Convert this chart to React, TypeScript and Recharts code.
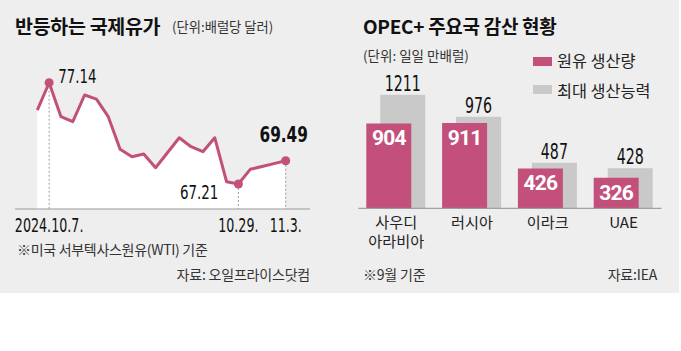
import React from 'react'
import {
  ComposedChart, Area, Line, XAxis, YAxis, ReferenceLine, BarChart, Bar, LabelList,
} from 'recharts'

const KR = "'Noto Sans CJK KR', 'Noto Sans', sans-serif"
const NUM = "'Liberation Sans Narrow', 'DejaVu Sans Condensed', Roboto, sans-serif"
const PINK = '#c2507a'
const GREY_BAR = '#c9c9c9'
const BG = '#eeeeee'

// WTI, trading days from 2024.10.4 to 11.3
const priceDays = [0, 1, 2, 3, 4, 5, 6, 7, 8, 9, 10, 11, 12, 13, 14, 15, 16, 17, 18, 19, 20, 21]
const prices = [
  74.46, 77.14, 73.81, 73.32, 75.94, 75.54, 73.81, 70.61, 69.89, 70.15, 68.81,
  70.28, 71.75, 70.87, 70.38, 71.75, 67.44, 67.21, 68.65, 68.93, 69.21, 69.49,
]
const markedDays = [1, 17, 21]
const dayLabels = ['2024.10.7.', '10.29.', '11.3.']
const Y_MIN = 64.76
const Y_MAX = 78.39

// OPEC+, 만배럴/일 (9월 기준)
const countries = ['사우디 아라비아', '러시아', '이라크', 'UAE']
const production = [904, 911, 426, 326]
const capacity = [1211, 976, 487, 428]

const priceData = priceDays.map((d, i) => ({ day: d, price: prices[i] }))
const barData = countries.map((c, i) => ({ name: c, production: production[i], capacity: capacity[i] }))

// the paper's number font is a narrow gothic: squeeze the fallback to that width
const narrowWidth = (s: string, size: number, bold = false) =>
  [...s].reduce((w, ch) => w + (ch === '.' ? 0.2 : bold ? 0.5 : 0.43) * size, 0)

function NarrowText({ x, y, text, size, bold = false, anchor = 'middle', fill = '#111' }: any) {
  return (
    <text
      x={x}
      y={y}
      textAnchor={anchor}
      fontFamily={NUM}
      fontSize={size}
      fontWeight={bold ? 700 : 400}
      fill={fill}
      textLength={narrowWidth(text, size, bold)}
      lengthAdjust="spacingAndGlyphs"
    >
      {text}
    </text>
  )
}

const annot = [
  { dx: 9, dy: 0.5, anchor: 'start', size: 20, bold: false },
  { dx: -20, dy: 14.5, anchor: 'end', size: 20, bold: false },
  { dx: -2, dy: -19, anchor: 'middle', size: 22, bold: true },
]

function PriceDot(props: any) {
  const { cx, cy, index, payload } = props
  const k = markedDays.indexOf(index)
  if (k < 0 || cx == null) return <g key={index} />
  const a = annot[k]
  return (
    <g key={index}>
      <circle cx={cx} cy={cy} r={4.5} fill={PINK} />
      <NarrowText x={cx + a.dx} y={cy + a.dy} text={payload.price.toFixed(2)} size={a.size} bold={a.bold} anchor={a.anchor} />
    </g>
  )
}

function DayTick({ x, y, payload }: any) {
  const k = markedDays.indexOf(payload.value)
  return <NarrowText x={x} y={y + 14.5} text={dayLabels[k]} size={19} fill="#111" />
}

function CountryTick({ x, y, payload }: any) {
  const lines = String(payload.value).split(' ')
  return (
    <text x={x} y={y} textAnchor="middle" fontFamily={KR} fontSize={15.2} fill="#222">
      {lines.map((l, i) => (
        <tspan key={i} x={x} dy={i === 0 ? 11.8 : 18.8}>{l}</tspan>
      ))}
    </text>
  )
}

function CapacityLabel({ x, y, width, value }: any) {
  return <NarrowText x={x + width / 2} y={y - 4} text={String(value)} size={21} fill="#111" />
}

export default function App() {
  return (
    <div style={{ position: 'absolute', left: 0, top: 0, width: 681, height: 351, background: '#fff', overflow: 'hidden' }}>
      <div style={{ position: 'absolute', left: 0, top: 0, width: 679, height: 293, background: BG }} />

      <div style={{ position: 'absolute', left: 0, top: 0 }}>
        <ComposedChart width={340} height={300} data={priceData} margin={{ top: 70, right: 30, left: 15, bottom: 61 }}>
          <XAxis
            type="number"
            dataKey="day"
            domain={[0, 21]}
            ticks={markedDays}
            interval={0}
            padding={{ left: 22.3, right: 24.3 }}
            axisLine={{ stroke: '#999999', strokeWidth: 1 }}
            tickLine={false}
            height={30}
            tick={(p: any) => <DayTick {...p} />}
          />
          <YAxis hide width={0} type="number" domain={[Y_MIN, Y_MAX]} />
          <Area
            type="linear"
            dataKey="price"
            stroke={PINK}
            strokeWidth={3}
            strokeLinejoin="round"
            fill="#ffffff"
            fillOpacity={1}
            dot={false}
            activeDot={false}
            isAnimationActive={false}
          />
          {markedDays.map(d => (
            <ReferenceLine
              key={d}
              segment={[{ x: d, y: prices[d] }, { x: d, y: Y_MIN }]}
              stroke="#9b9b9b"
              strokeDasharray="2 2"
              strokeWidth={1}
            />
          ))}
          <Line
            type="linear"
            dataKey="price"
            stroke="none"
            dot={(p: any) => <PriceDot {...p} key={p.index} />}
            activeDot={false}
            isAnimationActive={false}
          />
        </ComposedChart>
      </div>

      <div style={{ position: 'absolute', left: 340, top: 0 }}>
        <BarChart
          width={341}
          height={300}
          data={barData}
          margin={{ top: 77.1, right: 19.5, left: 18.3, bottom: 51.7 }}
          barGap={-59}
        >
          <XAxis
            dataKey="name"
            interval={0}
            axisLine={{ stroke: '#8f8f8f', strokeWidth: 1 }}
            tickLine={false}
            height={40}
            tick={(p: any) => <CountryTick {...p} />}
          />
          <YAxis hide width={0} type="number" domain={[0, 1400]} />
          <Bar dataKey="capacity" fill={GREY_BAR} barSize={45} isAnimationActive={false}>
            <LabelList dataKey="capacity" content={(p: any) => <CapacityLabel {...p} />} />
          </Bar>
          <Bar dataKey="production" fill={PINK} barSize={45} isAnimationActive={false}>
            <LabelList
              dataKey="production"
              position="insideTop"
              offset={7}
              fill="#fff"
              fontFamily="Roboto, sans-serif"
              fontWeight={700}
              fontSize={21}
              letterSpacing={-0.8}
            />
          </Bar>
        </BarChart>
      </div>

      <svg width={681} height={351} style={{ position: 'absolute', left: 0, top: 0, pointerEvents: 'none' }}>
        <g fontFamily={KR}>
          <text x={15} y={34} fontSize={19.5} fontWeight={700} letterSpacing={-0.3} fill="#111">반등하는 국제유가</text>
          <text x={172} y={32} fontSize={13.3} fill="#333">(단위:배럴당 달러)</text>
          <text x={17} y={254.5} fontSize={14} letterSpacing={-0.3} fill="#333">※미국 서부텍사스원유(WTI) 기준</text>
          <text x={310} y={279.5} fontSize={14} letterSpacing={-0.2} textAnchor="end" fill="#333">자료: 오일프라이스닷컴</text>

          <text x={363} y={34} fontSize={19} fontWeight={700} letterSpacing={-0.3} fill="#111">OPEC+ 주요국 감산 현황</text>
          <text x={363} y={60.5} fontSize={13.5} fill="#333">(단위: 일일 만배럴)</text>
          <rect x={533} y={57} width={19} height={9} fill={PINK} />
          <text x={557} y={67} fontSize={16.3} fill="#222">원유 생산량</text>
          <rect x={533} y={85} width={19} height={9} fill={GREY_BAR} />
          <text x={557} y={96.5} fontSize={16.3} fill="#222">최대 생산능력</text>
          <text x={363} y={279.5} fontSize={14} letterSpacing={-0.2} fill="#333">※9월 기준</text>
          <text x={657} y={279.5} fontSize={14} letterSpacing={-0.2} textAnchor="end" fill="#333">자료:IEA</text>
        </g>
      </svg>
    </div>
  )
}
